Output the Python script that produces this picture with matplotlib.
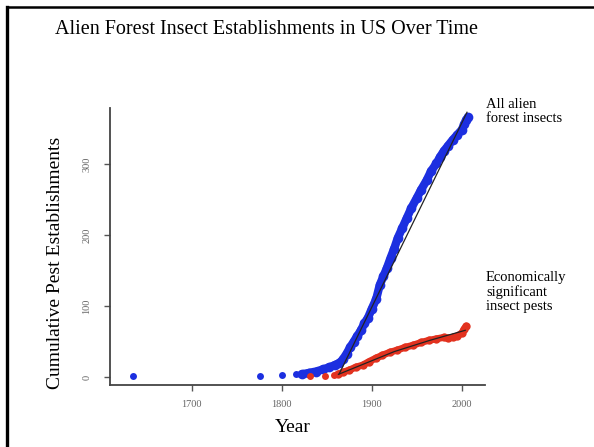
# Alien forest insect establishments in the US, cumulative over time
import matplotlib.pyplot as plt
from matplotlib.lines import Line2D

plt.rcParams['font.family'] = ['Liberation Serif', 'DejaVu Serif']

# all alien forest insects: early isolated records, then the dense run
all_early_years = [1635, 1776, 1800, 1816]
all_early_count = [1, 2, 3, 4]
all_years = [1822, 1830, 1838, 1846, 1853, 1859, 1864, 1868, 1872, 1876,
             1880, 1884, 1888, 1892, 1896, 1900, 1905, 1909, 1913, 1917,
             1921, 1925, 1929, 1934, 1939, 1944, 1950, 1955, 1961, 1966,
             1972, 1976, 1980, 1985, 1990, 1995, 2000, 2003, 2005, 2007]
all_count = [4, 6, 8, 11, 14, 17, 20, 25, 33, 42,
             50, 58, 66, 76, 84, 96, 110, 130, 142, 154,
             168, 181, 196, 210, 224, 238, 252, 264, 277, 290,
             301, 310, 318, 326, 334, 341, 348, 356, 362, 366]

# economically significant pests
pest_early_years = [1831, 1848, 1858]
pest_early_count = [1, 2, 3]
pest_years = [1862, 1868, 1875, 1882, 1890, 1897, 1905, 1912, 1920, 1928,
              1937, 1946, 1955, 1964, 1972, 1980, 1985, 1990, 1995, 2000,
              2003, 2005]
pest_count = [4, 7, 10, 14, 17, 22, 27, 31, 35, 38,
              42, 45, 49, 52, 54, 56, 55, 56, 58, 62,
              68, 72]

# fitted trend lines
fit_all_x = [1864, 2006]
fit_all_y = [5, 373]
fit_pest_x = [1863, 1925, 1965, 2004]
fit_pest_y = [4, 36, 52, 66]

blue = '#1c2fe0'
red = '#e2321f'

fig = plt.figure(figsize=(5.94, 4.47), dpi=100)
ax = fig.add_axes([0.1852, 0.1387, 0.6313, 0.6197])

ax.plot(all_early_years, all_early_count, 'o', color=blue, ms=5, mec='none')
ax.plot(all_years, all_count, '-o', color=blue, lw=6, ms=7, mec='none',
        solid_capstyle='round')
ax.plot(pest_early_years, pest_early_count, 'o', color=red, ms=5, mec='none')
ax.plot(pest_years, pest_count, '-o', color=red, lw=5, ms=6, mec='none',
        solid_capstyle='round')
ax.plot(fit_all_x, fit_all_y, color='#222222', lw=0.9)
ax.plot(fit_pest_x, fit_pest_y, color='#222222', lw=0.9)

ax.set_xlim(1609, 2026)
ax.set_ylim(-11, 379)
ax.set_xticks([1700, 1800, 1900, 2000])
ax.set_yticks([0, 100, 200, 300])
ax.spines['top'].set_visible(False)
ax.spines['right'].set_visible(False)
for s in ('left', 'bottom'):
    ax.spines[s].set_color('#444444')
    ax.spines[s].set_linewidth(1.3)
ax.tick_params(axis='x', length=4.5, width=1, color='#555555', pad=6,
               labelsize=7.5, labelcolor='#666666')
ax.tick_params(axis='y', length=4.5, width=1, color='#555555', pad=9,
               labelsize=7.5, labelcolor='#666666')
for lab in ax.get_yticklabels():
    lab.set_rotation(90)
    lab.set_va('center')

fig.text(0.448, 0.933, 'Alien Forest Insect Establishments in US Over Time',
         ha='center', va='center', fontsize=14.5)
fig.text(0.093, 0.412, 'Cumulative Pest Establishments', rotation=90,
         ha='center', va='center', fontsize=14)
fig.text(0.492, 0.043, 'Year', ha='center', va='center', fontsize=14)

fig.text(0.818, 0.781, 'All alien\nforest insects', ha='left', va='top',
         fontsize=10.5, linespacing=1.1)
fig.text(0.818, 0.394, 'Economically\nsignificant\ninsect pests', ha='left',
         va='top', fontsize=10.5, linespacing=1.1)

# slide frame: left and top edges
fig.add_artist(Line2D([0.012, 0.012], [0, 0.984], color='black', lw=2.4,
                      transform=fig.transFigure))
fig.add_artist(Line2D([0.012, 1.0], [0.984, 0.984], color='black', lw=1.8,
                      transform=fig.transFigure))

fig.savefig('out.png', dpi=100)
